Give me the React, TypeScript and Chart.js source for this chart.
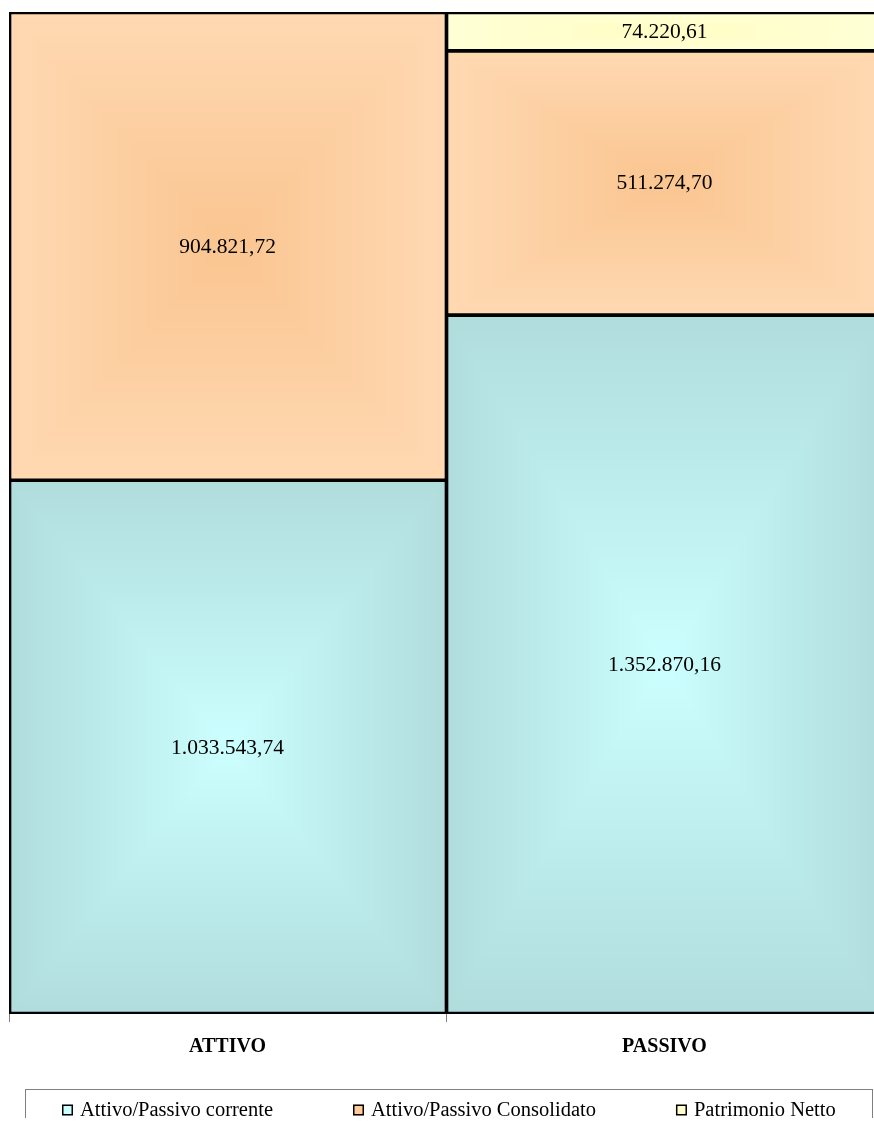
import React, { useEffect, useRef } from 'react';
import { Chart, registerables } from 'chart.js';

Chart.register(...registerables);

// ---- data ----
const categories = ['ATTIVO', 'PASSIVO'];
const seriesLabels = ['Attivo/Passivo corrente', 'Attivo/Passivo Consolidato', 'Patrimonio Netto'];
const correnteValues: (number | null)[] = [1033543.74, 1352870.16];
const consolidatoValues: (number | null)[] = [904821.72, 511274.7];
const patrimonioValues: (number | null)[] = [null, 74220.61];

// ---- styles ----
const legendColors = ['#CCFFFF', '#FFCC99', '#FFFFCC'];
const gradientColors = [
  { center: [204, 255, 255], edge: [176, 220, 220] },
  { center: [250, 197, 144], edge: [255, 217, 179] },
  { center: [255, 253, 196], edge: [255, 255, 214] },
];
const SERIF = '"Liberation Serif", "Times New Roman", Times, serif';

function fmt(v: number): string {
  const [i, d] = v.toFixed(2).split('.');
  return i.replace(/\B(?=(\d{3})+(?!\d))/g, '.') + ',' + d;
}

const rectGradientPlugin = {
  id: 'rectGradient',
  beforeDatasetsDraw(chart: any) {
    const ctx = chart.ctx as CanvasRenderingContext2D;
    chart.data.datasets.forEach((ds: any, di: number) => {
      const meta = chart.getDatasetMeta(di);
      meta.data.forEach((el: any, i: number) => {
        if (ds.data[i] == null) return;
        const { x, y, base, width } = el.getProps(['x', 'y', 'base', 'width'], true);
        const left = Math.round(x - width / 2);
        const right = Math.round(x + width / 2);
        const top = Math.round(Math.min(y, base));
        const bottom = Math.round(Math.max(y, base));
        const w = right - left;
        const h = bottom - top;
        if (w <= 0 || h <= 0) return;
        const off = document.createElement('canvas');
        off.width = w;
        off.height = h;
        const octx = off.getContext('2d')!;
        const img = octx.createImageData(w, h);
        const g = gradientColors[di];
        const hw = w / 2;
        const hh = h / 2;
        for (let py = 0; py < h; py++) {
          const dy = Math.abs(py + 0.5 - hh) / hh;
          for (let px = 0; px < w; px++) {
            const dx = Math.abs(px + 0.5 - hw) / hw;
            const t = 1 - Math.max(dx, dy);
            const k = (py * w + px) * 4;
            img.data[k] = g.edge[0] + (g.center[0] - g.edge[0]) * t;
            img.data[k + 1] = g.edge[1] + (g.center[1] - g.edge[1]) * t;
            img.data[k + 2] = g.edge[2] + (g.center[2] - g.edge[2]) * t;
            img.data[k + 3] = 255;
          }
        }
        octx.putImageData(img, 0, 0);
        ctx.drawImage(off, left, top);
      });
    });
  },
};

const valueLabelPlugin = {
  id: 'valueLabels',
  afterDatasetsDraw(chart: any) {
    const ctx = chart.ctx as CanvasRenderingContext2D;
    ctx.save();
    ctx.font = `21.5px ${SERIF}`;
    ctx.fillStyle = '#000';
    ctx.textAlign = 'center';
    ctx.textBaseline = 'middle';
    chart.data.datasets.forEach((ds: any, di: number) => {
      const meta = chart.getDatasetMeta(di);
      meta.data.forEach((el: any, i: number) => {
        const v = ds.data[i];
        if (v == null) return;
        const { x, y, base } = el.getProps(['x', 'y', 'base'], true);
        ctx.fillText(fmt(v), x, (y + base) / 2 + 1);
      });
    });
    ctx.restore();
  },
};

const boxLegendPlugin = {
  id: 'boxLegend',
  afterDraw(chart: any) {
    const ctx = chart.ctx as CanvasRenderingContext2D;
    const frameLeft = 17;
    const frameRight = 864;
    const frameTop = chart.height - 29;
    const cy = chart.height - 8;
    ctx.save();
    ctx.strokeStyle = '#7f7f7f';
    ctx.lineWidth = 1;
    ctx.strokeRect(frameLeft + 0.5, frameTop + 0.5, frameRight - frameLeft, 60);
    ctx.font = `20.5px ${SERIF}`;
    ctx.textBaseline = 'middle';
    ctx.textAlign = 'left';
    const box = 11;
    const boxGap = 7;
    const gap = 80;
    const items = chart.data.datasets.map((ds: any, i: number) => ({
      text: ds.label as string,
      color: legendColors[i],
      w: box + boxGap + ctx.measureText(ds.label).width,
    }));
    const total = items.reduce((s: number, it: any) => s + it.w, 0) + gap * (items.length - 1);
    let x = Math.round((frameLeft + frameRight) / 2 - total / 2);
    items.forEach((it: any) => {
      ctx.fillStyle = it.color;
      ctx.fillRect(x, cy - box / 2, box, box);
      ctx.strokeStyle = '#000';
      ctx.lineWidth = 1.5;
      ctx.strokeRect(x + 0.75, cy - box / 2 + 0.75, box - 1.5, box - 1.5);
      ctx.fillStyle = '#000';
      ctx.fillText(it.text, x + box + boxGap, cy + 1);
      x += it.w + gap;
    });
    ctx.restore();
  },
};

export default function App() {
  const canvasRef = useRef<HTMLCanvasElement | null>(null);

  useEffect(() => {
    const canvas = canvasRef.current;
    if (!canvas) return;
    const totals = categories.map(
      (_, i) => (correnteValues[i] ?? 0) + (consolidatoValues[i] ?? 0) + (patrimonioValues[i] ?? 0)
    );
    const yMax = Math.max(...totals);
    const common = {
      backgroundColor: 'rgba(0,0,0,0)',
      borderColor: '#000',
      borderSkipped: false as const,
      barPercentage: 1,
      categoryPercentage: 1,
    };
    const chart = new Chart(canvas, {
      type: 'bar',
      data: {
        labels: categories,
        datasets: [
          { ...common, label: seriesLabels[0], data: correnteValues, borderWidth: { top: 2, bottom: 2, left: 2, right: 1 } },
          { ...common, label: seriesLabels[1], data: consolidatoValues, borderWidth: { top: 2, bottom: 1, left: 2, right: 1 } },
          { ...common, label: seriesLabels[2], data: patrimonioValues, borderWidth: { top: 2, bottom: 1, left: 2, right: 1 } },
        ] as any,
      },
      options: {
        responsive: false,
        animation: false,
        devicePixelRatio: 1,
        layout: { padding: { left: 1, right: 5, top: 4, bottom: 64 } },
        plugins: {
          legend: { display: false },
          tooltip: { enabled: false },
        },
        scales: {
          x: {
            stacked: true,
            grid: {
              display: true,
              drawOnChartArea: false,
              drawTicks: true,
              tickLength: 8,
              color: '#808080',
              offset: true,
            },
            border: { display: false },
            ticks: {
              color: '#000',
              padding: 13,
              font: { family: SERIF, size: 20, weight: 'bold' },
            },
            afterFit: (s: any) => {
              s.height = 40;
            },
          },
          y: {
            stacked: true,
            display: false,
            min: 0,
            max: yMax,
          },
        },
      } as any,
      plugins: [rectGradientPlugin, valueLabelPlugin, boxLegendPlugin],
    });
    return () => chart.destroy();
  }, []);

  return (
    <div
      style={{
        position: 'fixed',
        left: 8,
        top: 8,
        width: 866,
        height: 1110,
        overflow: 'hidden',
      }}
    >
      <canvas ref={canvasRef} width={880} height={1110} style={{ display: 'block' }} />
    </div>
  );
}
